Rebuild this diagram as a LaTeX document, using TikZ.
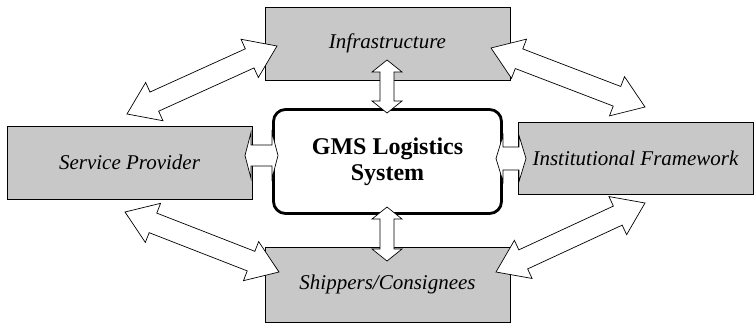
\documentclass[tikz,border=0pt]{standalone}
\usepackage{fontspec}
\setmainfont{Liberation Serif}
\usepackage{tikz}
\usetikzlibrary{
    shapes, arrows.meta, positioning, calc
}
\definecolor{colBox}{RGB}{200, 200, 200}

% fat double arrow: #1 from, #2 to, #3 half shaft, #4 half head, #5 head length
\newcommand{\dblarrow}[5]{%
    \coordinate (ba1) at ($(#1)!#5!(#2)$);
    \coordinate (ba2) at ($(#2)!#5!(#1)$);
    \draw[fatarrow] (#1) -- ($(ba1)!#4!90:(#2)$) -- ($(ba1)!#3!90:(#2)$)
        -- ($(ba2)!#3!-90:(#1)$) -- ($(ba2)!#4!-90:(#1)$) -- (#2)
        -- ($(ba2)!#4!90:(#1)$) -- ($(ba2)!#3!90:(#1)$)
        -- ($(ba1)!#3!-90:(#2)$) -- ($(ba1)!#4!-90:(#2)$) -- cycle;
}

\begin{document}
\begin{tikzpicture}[x=1pt, y=-1pt,
    every node/.style={font=\fontsize{21}{25}\selectfont\itshape},
    partbox/.style={draw, line width=0.9pt, fill=colBox, inner sep=0pt,
        minimum height=73pt},
    fatarrow/.style={draw, line width=0.7pt, fill=white, line join=miter}]
    \useasboundingbox (0, 0) rectangle (754, 324);

    % Boxes
    \node[partbox, minimum width=245pt] (infra) at (387.5, 43.5) {Infrastructure};
    \node[partbox, minimum width=245pt] (provider) at (129.5, 162.5) {Service Provider};
    \node[partbox, minimum width=235pt, minimum height=72pt] (framework) at (635.5, 158) {Institutional Framework};
    \node[partbox, minimum width=245pt, minimum height=75pt] (shippers) at (387.5, 284.5) {Shippers/Consignees};

    % Center
    \node[draw, line width=2.8pt, rounded corners=12pt, fill=white,
        minimum width=228pt, minimum height=104pt, align=center,
        font=\fontsize{24}{26}\selectfont\bfseries] (gms) at (387.5, 161.5) {GMS Logistics\\System};

    % Arrow ends
    \coordinate (tl-a) at (127, 114);  \coordinate (tl-b) at (277, 46);
    \coordinate (tr-a) at (491, 48);   \coordinate (tr-b) at (645, 107);
    \coordinate (bl-a) at (125, 212);  \coordinate (bl-b) at (279, 272);
    \coordinate (br-a) at (496, 272);  \coordinate (br-b) at (645, 203);
    \coordinate (up-a) at (387, 60);   \coordinate (up-b) at (387, 113);
    \coordinate (dn-a) at (387, 207);  \coordinate (dn-b) at (387, 261);
    \coordinate (lf-a) at (245, 155.5); \coordinate (lf-b) at (278, 155.5);
    \coordinate (rt-a) at (496, 158.5); \coordinate (rt-b) at (526, 158.5);

    % Diagonal arrows
    \dblarrow{tl-a}{tl-b}{10.5pt}{21pt}{30pt}
    \dblarrow{tr-a}{tr-b}{10.5pt}{21pt}{30pt}
    \dblarrow{bl-a}{bl-b}{10.5pt}{21pt}{30pt}
    \dblarrow{br-a}{br-b}{10.5pt}{21pt}{30pt}

    % Arrows to the center
    \dblarrow{up-a}{up-b}{7pt}{15pt}{12pt}
    \dblarrow{dn-a}{dn-b}{7pt}{15pt}{12pt}
    \dblarrow{lf-a}{lf-b}{10.5pt}{23pt}{6pt}
    \dblarrow{rt-a}{rt-b}{11.5pt}{23pt}{7pt}
\end{tikzpicture}
\end{document}
